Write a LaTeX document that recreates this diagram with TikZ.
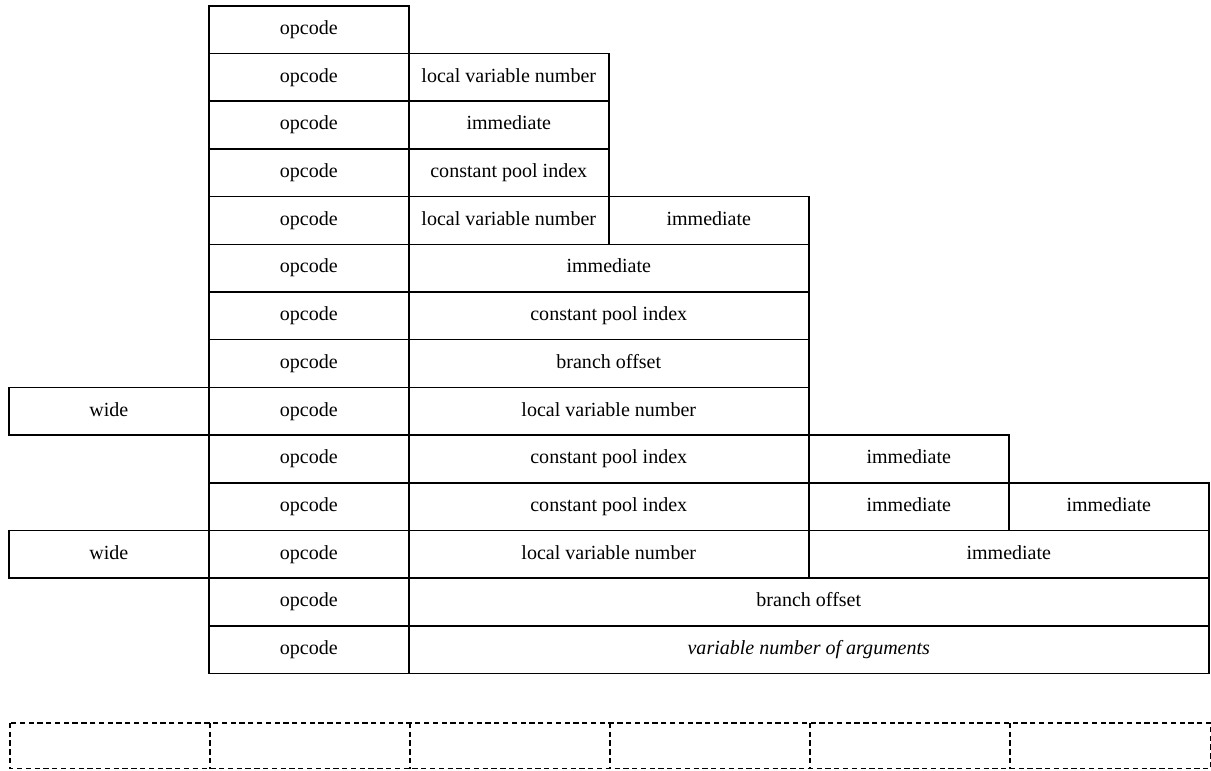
\documentclass[tikz,border=0pt]{standalone}
\usepackage{fontspec}
\setmainfont{Liberation Serif}
\usepackage{tikz}
\tikzset{every picture/.append style={font=\fontsize{11.4}{13}\selectfont}}
\tikzset{
  field/.style={draw,line width=0.9pt,inner sep=0pt,anchor=north west,
    minimum width=4cm,minimum height=0.954cm,text height=1.6ex,text depth=0.4ex},
  slot/.style={inner sep=0pt,anchor=north west,minimum width=4cm,minimum height=0.9cm},
  slotline/.style={line width=0.9pt,dash pattern=on 3pt off 2pt}
}
% #1 name, #2 column, #3 row, #4 span, #5 text
\newcommand{\fld}[5]{\node[field,minimum width={#4*4cm}] (#1) at (#2,#3) {#5};}

\begin{document}
\begin{tikzpicture}[x=4cm,y=-0.954cm]
    \useasboundingbox (-0.04,-0.105) rectangle (6.015,16.04);
    % opcode column
    \foreach \r in {0,...,13} {\node[field] (op\r) at (1,\r) {opcode};}
    \fld{lv1}{2}{1}{1}{local variable number}
    \fld{im2}{2}{2}{1}{immediate}
    \fld{cp3}{2}{3}{1}{constant pool index}
    \fld{lv4}{2}{4}{1}{local variable number}
    \fld{imb4}{3}{4}{1}{immediate}
    \fld{im5}{2}{5}{2}{immediate}
    \fld{cp6}{2}{6}{2}{constant pool index}
    \fld{br7}{2}{7}{2}{branch offset}
    \fld{wd8}{0}{8}{1}{wide}
    \fld{lv8}{2}{8}{2}{local variable number}
    \fld{cp9}{2}{9}{2}{constant pool index}
    \fld{imb9}{4}{9}{1}{immediate}
    \fld{cp10}{2}{10}{2}{constant pool index}
    \fld{imb10}{4}{10}{1}{immediate}
    \fld{imc10}{5}{10}{1}{immediate}
    \fld{wd11}{0}{11}{1}{wide}
    \fld{lv11}{2}{11}{2}{local variable number}
    \fld{imb11}{4}{11}{2}{immediate}
    \fld{br12}{2}{12}{4}{branch offset}
    \fld{va13}{2}{13}{4}{\itshape variable number of arguments}
    % empty slots
    \foreach \c in {0,...,5} {\node[slot] (slot\c) at (\c+0.01,15.05) {};}
    \draw[slotline] (slot0.north west) rectangle (slot5.south east);
    \foreach \c in {1,...,5} {\draw[slotline] (slot\c.north west) -- (slot\c.south west);}
\end{tikzpicture}
\end{document}
